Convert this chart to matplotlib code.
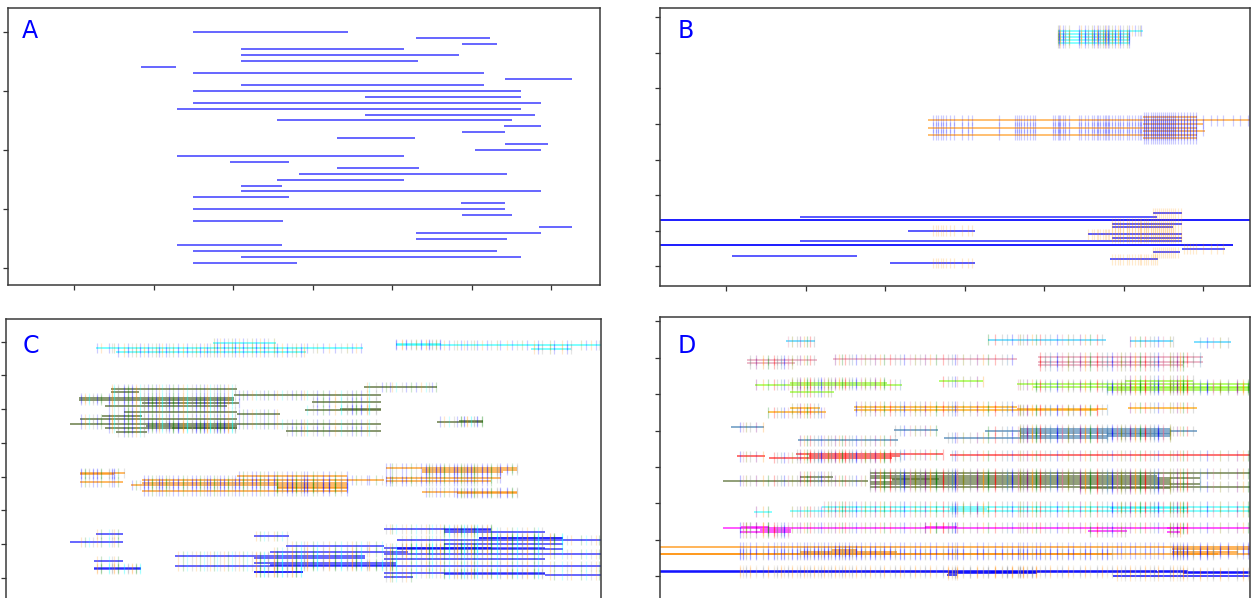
import matplotlib
matplotlib.use("Agg")
import matplotlib.pyplot as plt

W, H = 1251, 598

# ---------------- Panel A (rows counted from the top) ----------------
a_rows = list(range(40))
a_start = [185, 408, 454, 233, 233, 233, 133, 185, 497, 233, 185, 357, 185, 169, 357, 269, 496, 454, 329, 497,
           467, 169, 222, 329, 291, 269, 233, 233, 185, 453, 185, 454, 185, 531, 408, 408, 169, 185, 233, 185]
a_end = [340, 482, 489, 396, 451, 410, 168, 476, 564, 476, 513, 513, 533, 513, 527, 504, 533, 497, 407, 540,
         533, 396, 281, 411, 499, 396, 274, 533, 281, 497, 497, 504, 275, 564, 533, 499, 274, 489, 513, 289]

# ---------------- Panel B ----------------
b_events = [273, 275.5, 278, 281, 283, 286, 290, 294, 301.5, 307.5, 312, 339, 355, 357, 359, 361, 364, 367, 370,
            373, 375, 392.5, 395, 398, 399, 400, 403, 405, 409, 418.5, 420.5, 424.5, 428, 431.5, 434, 437, 438,
            440, 443, 445, 446, 448, 449, 452, 455, 457.5, 460, 463, 466.5, 469, 472, 475, 478, 480, 481, 484,
            486, 488, 491, 493, 495, 497, 499, 501, 503, 505, 507, 509, 511, 513, 515, 518, 521, 524, 527, 530,
            533, 536, 543, 551, 557, 563, 573, 580, 588]
b_blue_y = [15, 14, 13, 13, 12, 11, 10, 9, 8, 7, 6, 6, 5, 4, 3, 2, 1]
b_blue_start = [493, 140, -10, -10, 452, 452, 248, 428, 452, 140, -10, -10, 522, 493, 72, 450, 230]
b_blue_end = [522, 497, 600, 600, 522, 513, 315, 522, 522, 522, 573, 573, 565, 520, 197, 498, 315]
b_blue_marked = [1, 0, 0, 0, 1, 1, 1, 1, 1, 0, 0, 0, 1, 1, 0, 1, 1]
b_orange_y = [42, 41, 40, 39, 38, 37, 36]
b_orange_start = [483, 268, 483, 268, 483, 268, 483]
b_orange_end = [537, 600, 543, 537, 545, 537, 537]
b_cyan_y = [66.2, 65.3, 64.5, 63.7, 62.8]
b_cyan_start = [398, 398, 398, 398, 398]
b_cyan_end = [483, 470, 470, 470, 470]

# ---------------- Panel C ----------------
c_events = [75.5, 79.5, 83.5, 87.5, 91.5, 95.5, 103.5, 106, 108, 112.8, 118, 122, 126, 130, 134.5, 138.8, 142.5,
            146, 150, 153, 156, 160, 163.5, 167.8, 172.8, 177.8, 181, 186, 190, 194.5, 198, 201, 204.5, 208, 211,
            214.5, 218, 222, 226, 229.5, 233, 237, 241, 246, 250, 254.5, 258.8, 262.8, 268, 271, 276, 281, 286,
            290, 295, 298, 301, 307, 311, 317, 323, 329, 335, 341, 346, 350, 355, 361, 363, 370, 376, 380, 384,
            386, 390, 396, 400, 405, 410, 415, 420, 423, 426, 430, 434, 438, 443, 448, 451, 455, 458, 461, 465,
            468, 471, 476, 481, 485, 491, 494.5, 501, 506, 511, 516, 521, 528, 532, 536, 544.5, 548, 556, 561,
            565, 575, 580, 585, 590, 593]
c_cyan_y = [68.0, 67.0, 69.5, 69.0, 69.2, 67.9]
c_cyan_start = [90, 110, 207, 390, 390, 525]
c_cyan_end = [357, 300, 270, 600, 435, 565]
c_green_y = [56.5, 55.9, 55.2, 54.1, 53.4, 52.8, 51.9, 52.0, 50.8, 49.7, 49.9, 49.0, 48.5, 47.8, 47.1, 46.3,
             46.4, 45.5, 45.0, 44.5, 44.3, 43.6, 43.1]
c_green_start = [358, 105, 105, 228, 73, 73, 136, 306, 99, 299, 334, 118, 231, 96, 74, 431, 453, 64, 140, 166,
                 99, 280, 110]
c_green_end = [431, 231, 133, 375, 228, 228, 233, 375, 221, 375, 375, 231, 274, 136, 231, 477, 477, 375, 231,
               231, 231, 375, 141]
c_orange_y = [32.4, 31.9, 31.4, 31.0, 30.8, 30.2, 29.5, 29.0, 28.7, 28.5, 28.2, 27.5, 27.0, 26.7, 25.8, 25.5,
              25.0]
c_orange_start = [380, 416, 416, 74, 74, 231, 380, 136, 380, 74, 136, 125, 271, 271, 136, 416, 451]
c_orange_end = [511, 511, 497, 119, 108, 341, 495, 378, 485, 117, 341, 341, 341, 341, 341, 511, 511]
c_blue_y = [14.4, 14.1, 13.5, 13.0, 12.5, 11.8, 11.9, 11.2, 10.5, 10.0, 9.4, 8.9, 8.8, 8.4, 7.7, 7.0, 6.4, 6.0,
            5.5, 5.0, 4.3, 3.8, 3.5, 2.8, 2.6, 1.8, 1.6, 1.3, 1.0, 0.9, 0.3]
c_blue_start = [378, 438, 438, 90, 248, 473, 473, 391, 64, 438, 280, 391, 378, 391, 264, 378, 169, 248, 378, 88,
                248, 264, 169, 88, 88, 248, 248, 378, 438, 539, 378]
c_blue_end = [485, 485, 539, 117, 283, 557, 557, 600, 117, 557, 378, 539, 485, 557, 402, 600, 359, 359, 539, 117,
              390, 390, 600, 135, 135, 297, 297, 539, 539, 600, 407]

# ---------------- Panel D ----------------
d_events = [80, 83, 86, 90, 96, 103, 108, 114, 117, 121, 124, 128, 132, 137, 140, 144, 147, 150, 154, 158, 161,
            164, 168, 171, 175, 179, 182, 185, 189, 192, 196, 201, 205, 210, 215, 220, 224, 230, 235, 240, 244,
            250, 255, 260, 265, 270, 276, 283, 288, 292, 295, 297, 303, 310, 317, 323, 328, 335, 342, 347, 352,
            358, 360, 363, 367, 372, 376, 380, 385, 390, 397, 402, 408, 413, 420, 425, 430, 437, 442, 447, 452,
            457, 461, 465, 470, 475, 480, 485, 490, 494, 498, 503, 510, 513, 517, 520, 523, 527, 533, 540, 547,
            553, 560, 568, 577, 583, 588]
d_lblue_y = [64.6, 64.9, 64.6, 64.3]
d_lblue_start = [126, 328, 470, 534]
d_lblue_end = [155, 446, 513, 571]
d_pink_y = [59.4, 58.5, 59.6, 60.1, 58.9, 58.0]
d_pink_start = [87, 87, 173, 378, 378, 378]
d_pink_end = [157, 135, 357, 543, 543, 523]
d_green_y = [52.6, 53.2, 50.7, 53.5, 52.7, 52.1, 53.7, 51.7, 51.2]
d_green_start = [95, 130, 130, 279, 357, 373, 465, 447, 447]
d_green_end = [242, 227, 174, 323, 600, 600, 533, 600, 600]
d_orange_y = [46.2, 45.1, 46.6, 45.6, 45.9, 46.3]
d_orange_start = [130, 108, 194, 194, 357, 468]
d_orange_end = [160, 166, 357, 437, 447, 537]
d_steel_y = [41.0, 40.1, 37.4, 38.1, 39.9, 40.4, 39.3, 38.5, 39.0]
d_steel_start = [71, 234, 138, 284, 325, 360, 360, 360, 447]
d_steel_end = [104, 278, 238, 447, 537, 510, 510, 510, 510]
d_red_y = [33.0, 32.6, 32.9, 33.5, 33.2]
d_red_start = [77, 109, 149, 136, 290]
d_red_end = [105, 232, 240, 283, 600]
d_olive_y = [26.2, 27.4, 28.3, 27.6, 27.1, 26.5, 25.8, 25.3, 24.6, 24.2, 26.8]
d_olive_start = [63, 140, 210, 210, 210, 232, 210, 210, 210, 420, 232]
d_olive_end = [208, 173, 600, 497, 540, 510, 510, 540, 600, 510, 279]
d_cyan_y = [17.7, 17.9, 19.1, 18.5, 18.8]
d_cyan_start = [94, 130, 162, 290, 450]
d_cyan_end = [112, 600, 600, 327, 528]
d_mag_y = [13.4, 13.5, 12.1, 12.6, 13.5, 12.4, 13.2, 12.3]
d_mag_start = [63, 81, 80, 100, 265, 428, 507, 507]
d_mag_end = [600, 109, 131, 131, 297, 467, 527, 520]
d_dorange_y = [8.0, 6.2, 6.1, 6.8, 7.2, 7.4, 6.8, 6.0]
d_dorange_start = [-10, -10, -10, 140, 172, 512, 512, 512]
d_dorange_end = [600, 600, 452, 237, 197, 600, 578, 558]
d_blue_y = [1.5, 1.1, 1.0, 1.3, 1.5, 0.8, 0.2, 0.4]
d_blue_start = [-10, -10, 288, 331, 498, 523, 453, 287]
d_blue_end = [497, 600, 377, 377, 528, 600, 600, 297]

x_tick_pos = [66, 145.5, 225, 304.5, 384, 463.5, 543]
y_tick_pos = [0, 10, 20, 30, 40, 50, 60, 70]

LINE_W = 1.3
TICK_H = 1.5


def draw_group(ax, ys, x0s, x1s, color, alpha=0.7, events=None, palette=None, marked=None, tick_alpha=0.2):
    ax.hlines(ys, x0s, x1s, colors=color, alpha=alpha, lw=LINE_W, zorder=2)
    if not events:
        return
    xs, lo, hi, cols = [], [], [], []
    for i, (y, a, b) in enumerate(zip(ys, x0s, x1s)):
        if marked is not None and not marked[i]:
            continue
        for k, e in enumerate(events):
            if a <= e <= b:
                xs.append(e)
                lo.append(y - TICK_H)
                hi.append(y + TICK_H)
                cols.append(palette[k % len(palette)])
    if xs:
        ax.vlines(xs, lo, hi, colors=cols, alpha=tick_alpha, lw=0.9, zorder=3)


def style(ax, label, lx, ly, xlim, ylim, yticks):
    ax.set_xlim(*xlim)
    ax.set_ylim(*ylim)
    ax.set_xticks(x_tick_pos)
    ax.set_yticks(yticks)
    ax.tick_params(length=3.5, width=0.9, color='#333333', labelleft=False, labelbottom=False)
    for s in ax.spines.values():
        s.set_color('#3a3a3a')
        s.set_linewidth(1.1)
    ax.text(lx, ly, label, transform=ax.transAxes, color='blue', fontsize=17,
            ha='left', va='center')


fig = plt.figure(figsize=(W / 100, H / 100), dpi=100)


def box(l, t, r, b):
    return [l / W, (H - b) / H, (r - l) / W, (b - t) / H]


axA = fig.add_axes(box(8, 8, 600, 285))
axB = fig.add_axes(box(660, 8.3, 1250, 286))
axC = fig.add_axes(box(5.5, 319.3, 600.7, 599))
axD = fig.add_axes(box(660, 317, 1250, 600))

# A
draw_group(axA, a_rows, a_start, a_end, 'blue', 0.65)
style(axA, 'A', 0.024, 0.917, (0, 592), (42.8, -4.0), [0, 10, 20, 30, 40])

# B
draw_group(axB, b_blue_y, b_blue_start, b_blue_end, 'blue', 0.7, b_events, ['darkorange', 'orange'], b_blue_marked)
draw_group(axB, b_orange_y, b_orange_start, b_orange_end, 'darkorange', 0.6, b_events, ['blue'])
draw_group(axB, b_cyan_y, b_cyan_start, b_cyan_end, 'cyan', 0.5, b_events,
           ['darkorange', 'blue', 'gray', 'olive', 'blue'])
style(axB, 'B', 0.03, 0.918, (0, 590), (-5.5, 72.5), y_tick_pos)

# C
draw_group(axC, c_cyan_y, c_cyan_start, c_cyan_end, 'cyan', 0.55, c_events,
           ['darkorange', 'blue', 'gray', 'olive', 'blue'])
draw_group(axC, c_green_y, c_green_start, c_green_end, 'darkolivegreen', 0.75, c_events,
           ['blue', 'darkorange', 'cyan', 'gray', 'blue', 'green'])
draw_group(axC, c_orange_y, c_orange_start, c_orange_end, 'darkorange', 0.65, c_events,
           ['blue', 'green', 'gray', 'blue'])
draw_group(axC, c_blue_y, c_blue_start, c_blue_end, 'blue', 0.65, c_events,
           ['darkorange', 'green', 'cyan', 'gray'])
style(axC, 'C', 0.028, 0.903, (0, 595.2), (-6.3, 76.6), y_tick_pos)

# D
mixed = ['blue', 'palevioletred', 'olive', 'gray', 'purple', 'darkorange', 'green', 'red', 'gray', 'steelblue']
ta = 0.26
draw_group(axD, d_lblue_y, d_lblue_start, d_lblue_end, 'deepskyblue', 0.55, d_events, mixed, tick_alpha=ta)
draw_group(axD, d_pink_y, d_pink_start, d_pink_end, 'palevioletred', 0.5, d_events, mixed, tick_alpha=ta)
draw_group(axD, d_green_y, d_green_start, d_green_end, 'lawngreen', 0.6, d_events, mixed, tick_alpha=ta)
draw_group(axD, d_orange_y, d_orange_start, d_orange_end, 'orange', 0.7, d_events, mixed, tick_alpha=ta)
draw_group(axD, d_steel_y, d_steel_start, d_steel_end, 'steelblue', 0.7, d_events, mixed, tick_alpha=ta)
draw_group(axD, d_red_y, d_red_start, d_red_end, 'red', 0.6, d_events, mixed, tick_alpha=ta)
draw_group(axD, d_olive_y, d_olive_start, d_olive_end, 'darkolivegreen', 0.7, d_events, mixed, tick_alpha=ta)
draw_group(axD, d_cyan_y, d_cyan_start, d_cyan_end, 'cyan', 0.5, d_events, mixed, tick_alpha=ta)
draw_group(axD, d_mag_y, d_mag_start, d_mag_end, 'magenta', 0.7, d_events, mixed, tick_alpha=ta)
draw_group(axD, d_dorange_y, d_dorange_start, d_dorange_end, 'darkorange', 0.7, d_events,
           ['blue', 'blue', 'gray'], tick_alpha=0.2)
draw_group(axD, d_blue_y, d_blue_start, d_blue_end, 'blue', 0.8, d_events,
           ['darkorange', 'tan', 'gray'], tick_alpha=0.2)
style(axD, 'D', 0.03, 0.896, (0, 590), (-6.5, 71.2), y_tick_pos)

fig.savefig('out.png', dpi=100)
